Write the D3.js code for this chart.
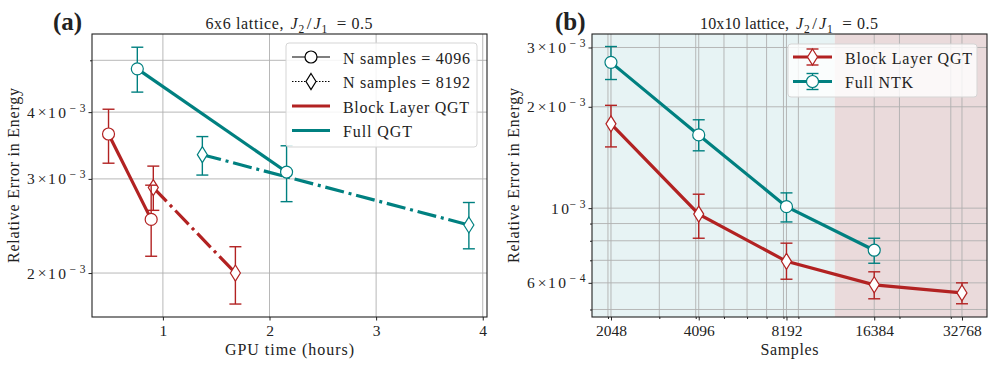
<!DOCTYPE html>
<meta charset="utf-8">
<style>
body { margin: 0; background: #fff; }
svg text { font-family: "Liberation Serif", "DejaVu Serif", serif; fill: #222; }
.grid line { stroke: #b0b0b0; stroke-width: 0.9px; }
.tick line { stroke: #222; }
.frame { fill: none; stroke: #222; stroke-width: 1.1px; }
</style>
<svg width="996" height="365"></svg>
<script src="https://cdn.jsdelivr.net/npm/d3@7"></script>
<script>

var red = "#b22222", teal = "#008080";

// ---- panel (a): 6x6 lattice, error vs GPU time ----
var timeBlock4096 = [0.49, 0.89];
var errBlock4096 = [3.64e-3, 2.52e-3];
var barBlock4096 = [[3.21e-3, 4.05e-3], [2.15e-3, 2.92e-3]];

var timeBlock8192 = [0.91, 1.68];
var errBlock8192 = [2.89e-3, 2.0e-3];
var barBlock8192 = [[2.62e-3, 3.17e-3], [1.75e-3, 2.24e-3]];

var timeFull4096 = [0.76, 2.16];
var errFull4096 = [4.82e-3, 3.09e-3];
var barFull4096 = [[4.36e-3, 5.29e-3], [2.72e-3, 3.46e-3]];

var timeFull8192 = [1.37, 3.87];
var errFull8192 = [3.33e-3, 2.46e-3];
var barFull8192 = [[3.05e-3, 3.60e-3], [2.22e-3, 2.71e-3]];

var aXTicks = [1, 2, 3, 4];
var aYTicks = [2e-3, 3e-3, 4e-3];
var aYMinor = [5e-3];

// ---- panel (b): 10x10 lattice, error vs samples ----
var samples = [2048, 4096, 8192, 16384, 32768];
var errBlockB = [1.78e-3, 9.6e-4, 6.95e-4, 5.92e-4, 5.6e-4];
var barBlockB = [[1.52e-3, 2.02e-3], [8.14e-4, 1.10e-3], [6.15e-4, 7.87e-4], [5.38e-4, 6.47e-4], [5.2e-4, 6.0e-4]];
var samplesNtk = [2048, 4096, 8192, 16384];
var errNtkB = [2.71e-3, 1.65e-3, 1.01e-3, 7.5e-4];
var barNtkB = [[2.41e-3, 3.02e-3], [1.48e-3, 1.83e-3], [9.1e-4, 1.11e-3], [6.86e-4, 8.14e-4]];

var bXMinor = [2000, 3000, 4000, 5000, 6000, 7000, 8000, 9000, 20000, 30000];
var bYTicks = [6e-4, 1e-3, 2e-3, 3e-3];
var bYMinor = [5e-4, 7e-4, 8e-4, 9e-4];
var regionSplit = 12000;

var svg = d3.select("svg");

// plain label with a fixed width (the original font is wider than Liberation Serif)
function label(g, x, y, str, width, anchor, size) {
  return g.append("text").attr("x", x).attr("y", y).attr("text-anchor", anchor || "start")
    .attr("font-size", (size || 16) + "px")
    .attr("textLength", width).attr("lengthAdjust", "spacing").text(str);
}

// y tick label "4 × 10^-3", right edge at R
function yTickLabel(g, R, y, v) {
  var e = Math.floor(Math.log10(v) + 1e-9);
  var m = Math.round(v / Math.pow(10, e));
  var t = g.append("g");
  if (m !== 1) {
    t.append("text").attr("x", R - 59).attr("y", y + 5.5).attr("font-size", "15.5px").text(m);
    t.append("text").attr("x", R - 44).attr("y", y + 5).attr("text-anchor", "middle")
      .attr("font-size", "15.5px").text("×");
    t.append("text").attr("x", R - 38).attr("y", y + 5.5).attr("font-size", "15.5px")
      .attr("textLength", 18).attr("lengthAdjust", "spacing").text("10");
  } else {
    t.append("text").attr("x", R - 35).attr("y", y + 5.5).attr("font-size", "15.5px")
      .attr("textLength", 18).attr("lengthAdjust", "spacing").text("10");
  }
  t.append("text").attr("x", R - 16.5).attr("y", y - 0.5).attr("font-size", "11.5px")
    .attr("textLength", 16).attr("lengthAdjust", "spacing").text("−" + (-e));
}

function titleText(g, c, y, prefix, prefixW) {
  var s = c - (prefixW + 90) / 2, e = s + prefixW;
  label(g, s, y, prefix, prefixW, "start", 16);
  var it = function(x, yy, str, size, italic, anchor) {
    g.append("text").attr("x", x).attr("y", yy).attr("font-size", size + "px")
      .attr("text-anchor", anchor || "start")
      .attr("font-style", italic ? "italic" : null).text(str);
  };
  it(e + 7, y, "J", 16, true);
  it(e + 15, y + 3.5, "2", 11.5);
  it(e + 25.5, y, "/", 17, false, "middle");
  it(e + 30, y, "J", 16, true);
  it(e + 38, y + 3.5, "1", 11.5);
  it(e + 58, y, "=", 17, false, "middle");
  g.append("text").attr("x", e + 68).attr("y", y).attr("font-size", "16px")
    .attr("textLength", 21).attr("lengthAdjust", "spacing").text("0.5");
}

function marker(g, shape, x, y, color) {
  if (shape === "circle") {
    g.append("circle").attr("cx", x).attr("cy", y).attr("r", 6)
      .attr("fill", "#fff").attr("stroke", color).attr("stroke-width", 1.2);
  } else {
    g.append("path").attr("d", "M" + x + "," + (y - 8) + "L" + (x + 5) + "," + y +
        "L" + x + "," + (y + 8) + "L" + (x - 5) + "," + y + "Z")
      .attr("fill", "#fff").attr("stroke", color).attr("stroke-width", 1.2);
  }
}

function errbar(g, x, y0, y1, color) {
  g.append("line").attr("x1", x).attr("x2", x).attr("y1", y0).attr("y2", y1)
    .attr("stroke", color).attr("stroke-width", 1.4);
  [y0, y1].forEach(function(yy) {
    g.append("line").attr("x1", x - 6).attr("x2", x + 6).attr("y1", yy).attr("y2", yy)
      .attr("stroke", color).attr("stroke-width", 1.4);
  });
}

function series(g, x, y, xs, ys, bars, color, shape, dash) {
  var pts = xs.map(function(d, i) { return [x(d), y(ys[i])]; });
  bars.forEach(function(b, i) { errbar(g, pts[i][0], y(b[0]), y(b[1]), color); });
  g.append("path").attr("d", d3.line()(pts)).attr("fill", "none")
    .attr("stroke", color).attr("stroke-width", 3.2)
    .attr("stroke-dasharray", dash || null);
  pts.forEach(function(p) { marker(g, shape, p[0], p[1], color); });
}

function axes(g, x, y, L, R, T, B, xTicks, xMinor, yTicks, yMinor) {
  var grid = g.append("g").attr("class", "grid");
  xTicks.concat(xMinor).forEach(function(v) {
    grid.append("line").attr("x1", x(v)).attr("x2", x(v)).attr("y1", T).attr("y2", B);
  });
  yTicks.concat(yMinor).forEach(function(v) {
    grid.append("line").attr("x1", L).attr("x2", R).attr("y1", y(v)).attr("y2", y(v));
  });

  var ax = g.append("g").attr("transform", "translate(0," + B + ")")
    .call(d3.axisBottom(x).tickValues(xTicks).tickFormat(d3.format("d")).tickSize(3.5).tickPadding(4));
  ax.select(".domain").remove();
  ax.selectAll("text").attr("font-size", "15.5px").attr("fill", "#222");
  if (xMinor.length) {
    g.append("g").attr("transform", "translate(0," + B + ")")
      .call(d3.axisBottom(x).tickValues(xMinor).tickFormat("").tickSize(2))
      .select(".domain").remove();
  }

  var ay = g.append("g").attr("transform", "translate(" + L + ",0)")
    .call(d3.axisLeft(y).tickValues(yTicks).tickFormat("").tickSize(3.5));
  ay.select(".domain").remove();
  yTicks.forEach(function(v) { yTickLabel(g, L - 6, y(v), v); });
  g.append("g").attr("transform", "translate(" + L + ",0)")
    .call(d3.axisLeft(y).tickValues(yMinor).tickFormat("").tickSize(2))
    .select(".domain").remove();
}

// ================= panel (a) =================
var aL = 92, aR = 487, aT = 34, aB = 317;
var xa = d3.scaleLinear().domain([0.335, 4.04]).range([aL, aR]);
var ya = d3.scaleLog().domain([1.655e-3, 5.6e-3]).range([aB, aT]);
var ga = svg.append("g");

axes(ga, xa, ya, aL, aR, aT, aB, aXTicks, [], aYTicks, aYMinor);

var dashDot = "19.2,4.8,3,4.8";
var pa = ga.append("g");
series(pa, xa, ya, timeBlock8192, errBlock8192, barBlock8192, red, "diamond", dashDot);
series(pa, xa, ya, timeFull8192, errFull8192, barFull8192, teal, "diamond", dashDot);
series(pa, xa, ya, timeBlock4096, errBlock4096, barBlock4096, red, "circle");
series(pa, xa, ya, timeFull4096, errFull4096, barFull4096, teal, "circle");

ga.append("rect").attr("class", "frame").attr("x", aL).attr("y", aT)
  .attr("width", aR - aL).attr("height", aB - aT);

titleText(ga, (aL + aR) / 2, 29, "6x6 lattice,", 78);
ga.append("text").attr("x", 53).attr("y", 30).attr("font-size", "25px")
  .attr("font-weight", "bold").attr("fill", "#000").text("(a)");
label(ga, (aL + aR) / 2, 355, "GPU time (hours)", 129, "middle");
label(ga, 0, 0, "Relative Error in Energy", 175, "middle")
  .attr("transform", "translate(18.5," + (aT + aB) / 2 + ") rotate(-90)");

// legend (a)
var la = ga.append("g").attr("transform", "translate(286,43)");
la.append("rect").attr("width", 191).attr("height", 104).attr("rx", 3)
  .attr("fill", "#fff").attr("fill-opacity", 0.85).attr("stroke", "#d5d5d5");
var legA = [
  {label: "N samples = 4096", w: 127, color: "#000", shape: "circle", width: 1.2, dash: null},
  {label: "N samples = 8192", w: 127, color: "#000", shape: "diamond", width: 1.2, dash: "1.5,1.5"},
  {label: "Block Layer QGT", w: 126, color: red, shape: null, width: 3.2, dash: null},
  {label: "Full QGT", w: 69, color: teal, shape: null, width: 3.2, dash: null}
];
legA.forEach(function(d, i) {
  var yy = 14 + i * 24.5;
  la.append("line").attr("x1", 6).attr("x2", 44).attr("y1", yy).attr("y2", yy)
    .attr("stroke", d.color).attr("stroke-width", d.width).attr("stroke-dasharray", d.dash);
  if (d.shape) marker(la, d.shape, 25, yy, d.color);
  label(la, 57, yy + 6.5, d.label, d.w);
});

// ================= panel (b) =================
var bL = 592, bR = 987, bT = 34, bB = 317;
var xb = d3.scaleLog().base(2).domain([1763, 39929]).range([bL, bR]);
var yb = d3.scaleLog().domain([4.75e-4, 3.29e-3]).range([bB, bT]);
var gb = svg.append("g");

gb.append("rect").attr("x", bL).attr("y", bT).attr("width", xb(regionSplit) - bL)
  .attr("height", bB - bT).attr("fill", "#e7f3f4");
gb.append("rect").attr("x", xb(regionSplit)).attr("y", bT).attr("width", bR - xb(regionSplit))
  .attr("height", bB - bT).attr("fill", "#eadadb");

axes(gb, xb, yb, bL, bR, bT, bB, samples, bXMinor, bYTicks, bYMinor);

var pb = gb.append("g");
series(pb, xb, yb, samples, errBlockB, barBlockB, red, "diamond");
series(pb, xb, yb, samplesNtk, errNtkB, barNtkB, teal, "circle");

gb.append("rect").attr("class", "frame").attr("x", bL).attr("y", bT)
  .attr("width", bR - bL).attr("height", bB - bT);

titleText(gb, (bL + bR) / 2, 29, "10x10 lattice,", 89);
gb.append("text").attr("x", 555).attr("y", 30).attr("font-size", "25px")
  .attr("font-weight", "bold").attr("fill", "#000").text("(b)");
label(gb, (bL + bR) / 2, 355, "Samples", 58, "middle");
label(gb, 0, 0, "Relative Error in Energy", 175, "middle")
  .attr("transform", "translate(518.5," + (bT + bB) / 2 + ") rotate(-90)");

// legend (b)
var lb = gb.append("g").attr("transform", "translate(788,44)");
lb.append("rect").attr("width", 189).attr("height", 53).attr("rx", 3)
  .attr("fill", "#fff").attr("fill-opacity", 0.8).attr("stroke", "#d5d5d5");
var legB = [
  {label: "Block Layer QGT", w: 127, color: red, shape: "diamond"},
  {label: "Full NTK", w: 68, color: teal, shape: "circle"}
];
legB.forEach(function(d, i) {
  var yy = 13 + i * 24.5;
  lb.append("line").attr("x1", 5).attr("x2", 44).attr("y1", yy).attr("y2", yy)
    .attr("stroke", d.color).attr("stroke-width", 3.2);
  errbar(lb, 24.5, yy - 8, yy + 8, d.color);
  marker(lb, d.shape, 24.5, yy, d.color);
  label(lb, 57, yy + 6.5, d.label, d.w);
});

</script>
